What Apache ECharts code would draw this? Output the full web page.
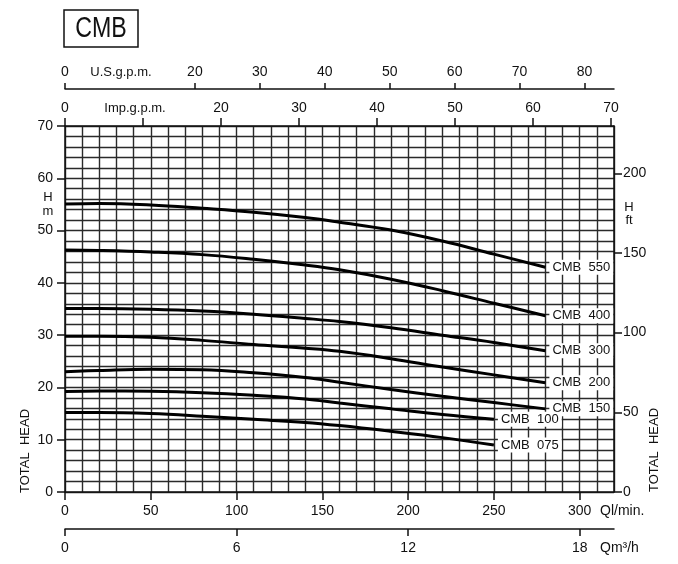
<!DOCTYPE html>
<html>
<head>
<meta charset="utf-8">
<script src="https://cdn.jsdelivr.net/npm/echarts@6/dist/echarts.min.js"></script>
<style>html,body{margin:0;padding:0;background:#fff}#c{width:678px;height:564px}</style>
</head>
<body>
<div id="c"></div>
<script>
// ---- data (flow in l/min, head in m) ----
const flowLong = [0, 20, 50, 80, 110, 140, 160, 190, 220, 250, 280];
const flowShort = [0, 20, 50, 80, 110, 140, 160, 190, 220, 250];
const headCMB550 = [55.1, 55.2, 54.9, 54.25, 53.5, 52.5, 51.6, 50.1, 48.0, 45.5, 43.0];
const headCMB400 = [46.3, 46.2, 45.9, 45.4, 44.5, 43.4, 42.5, 40.7, 38.5, 36.1, 33.7];
const headCMB300 = [35.1, 35.1, 34.95, 34.6, 34.0, 33.2, 32.6, 31.4, 30.0, 28.6, 27.0];
const headCMB200 = [29.8, 29.8, 29.6, 29.0, 28.2, 27.5, 26.9, 25.5, 23.9, 22.4, 20.9];
const headCMB150 = [23.0, 23.25, 23.5, 23.4, 22.8, 21.9, 21.0, 19.6, 18.3, 17.1, 15.9];
const headCMB100 = [19.2, 19.3, 19.25, 19.0, 18.5, 17.8, 17.0, 15.9, 14.8, 13.9];
const headCMB075 = [15.2, 15.2, 15.0, 14.5, 13.9, 13.3, 12.7, 11.6, 10.4, 9.0];
const seriesNames = ['CMB  550', 'CMB  400', 'CMB  300', 'CMB  200', 'CMB  150', 'CMB  100', 'CMB  075'];

const qlTicks = [0, 50, 100, 150, 200, 250, 300];
const m3hTicks = [0, 6, 12, 18];
const impTicks = [0, 10, 20, 30, 40, 50, 60, 70];
const usTicks = [0, 20, 30, 40, 50, 60, 70, 80];
const usLabels = [0, 10, 20, 30, 40, 50, 60, 70, 80];
const headMTicks = [0, 10, 20, 30, 40, 50, 60, 70];
const headFtTicks = [0, 50, 100, 150, 200];

const Q_MAX = 320;
const H_MAX = 70;
const Q_GRID_STEP = 10;
const H_GRID_STEP = 2;

const curves = [
  [flowLong, headCMB550], [flowLong, headCMB400], [flowLong, headCMB300],
  [flowLong, headCMB200], [flowLong, headCMB150], [flowShort, headCMB100], [flowShort, headCMB075]
];

const FONT = '"Liberation Sans Narrow", "Liberation Sans", Arial, sans-serif';
const ink = '#111';
const gridInk = '#2a2a2a';

const chart = echarts.init(document.getElementById('c'), null, {renderer: 'canvas'});

const baseLabel = {color: ink, fontFamily: FONT, fontSize: 14};
const axLine = {show: true, onZero: false, lineStyle: {color: ink, width: 1.5}};
const tickStyle = {color: ink, width: 1.5};

const option = {
  animation: false,
  backgroundColor: '#fff',
  grid: {left: 65, right: 64, top: 126, bottom: 72, containLabel: false, outerBoundsMode: 'none'},
  xAxis: [
    { // Ql/min (main)
      type: 'value', position: 'bottom', min: 0, max: Q_MAX, interval: 50,
      axisLine: axLine,
      splitLine: {show: false},
      axisTick: {show: true, length: 8, customValues: qlTicks, lineStyle: tickStyle},
      axisLabel: Object.assign({customValues: qlTicks, margin: 12}, baseLabel)
    },
    { // m3/h
      type: 'value', position: 'bottom', offset: 37, min: 0, max: Q_MAX * 60 / 1000, interval: 6,
      axisLine: axLine,
      splitLine: {show: false},
      axisTick: {show: true, length: 7, customValues: m3hTicks, lineStyle: tickStyle},
      axisLabel: Object.assign({customValues: m3hTicks, margin: 12}, baseLabel)
    },
    { // Imp gpm
      type: 'value', position: 'top', offset: 0, min: 0, max: Q_MAX / 4.54609, interval: 10,
      axisLine: axLine,
      splitLine: {show: false},
      axisTick: {show: true, length: 8, customValues: impTicks, lineStyle: tickStyle},
      axisLabel: Object.assign({
        customValues: impTicks, margin: 11,
        formatter: v => v === 10 ? '{u|Imp.g.p.m.}' : String(v),
        rich: {u: {fontFamily: FONT, fontSize: 13, color: ink, padding: [0, 16, 0, 0]}}
      }, baseLabel)
    },
    { // US gpm
      type: 'value', position: 'top', offset: 37, min: 0, max: Q_MAX / 3.78541, interval: 10,
      axisLine: axLine,
      splitLine: {show: false},
      axisTick: {show: true, length: 6, customValues: usTicks, lineStyle: tickStyle},
      axisLabel: Object.assign({
        customValues: usLabels, margin: 10,
        formatter: v => v === 10 ? '{u|U.S.g.p.m.}' : String(v),
        rich: {u: {fontFamily: FONT, fontSize: 13, color: ink, padding: [0, 18, 0, 0]}}
      }, baseLabel)
    },
    { // vertical grid lines every 10 l/min
      type: 'value', position: 'bottom', min: 0, max: Q_MAX, interval: Q_GRID_STEP,
      axisLine: {show: false}, axisTick: {show: false}, axisLabel: {show: false},
      splitLine: {show: true, lineStyle: {color: gridInk, width: 1.4}}
    }
  ],
  yAxis: [
    { // metres
      type: 'value', position: 'left', min: 0, max: H_MAX, interval: 10,
      axisLine: axLine,
      splitLine: {show: false},
      axisTick: {show: true, length: 8, customValues: headMTicks, lineStyle: tickStyle},
      axisLabel: Object.assign({customValues: headMTicks, margin: 12}, baseLabel)
    },
    { // feet
      type: 'value', position: 'right', min: 0, max: H_MAX / 0.3048, interval: 50,
      axisLine: axLine,
      splitLine: {show: false},
      axisTick: {show: true, length: 8, customValues: headFtTicks, lineStyle: tickStyle},
      axisLabel: Object.assign({customValues: headFtTicks, margin: 9}, baseLabel)
    },
    { // horizontal grid lines every 2 m
      type: 'value', position: 'left', min: 0, max: H_MAX, interval: H_GRID_STEP,
      axisLine: {show: false}, axisTick: {show: false}, axisLabel: {show: false},
      splitLine: {show: true, lineStyle: {color: gridInk, width: 1.4}}
    }
  ],
  series: curves.map((c, i) => ({
    name: seriesNames[i],
    type: 'line',
    xAxisIndex: 0, yAxisIndex: 0,
    smooth: 0.4,
    symbol: 'none',
    data: c[0].map((q, k) => [q, c[1][k]]),
    lineStyle: {color: '#000', width: 3},
    endLabel: {
      show: true,
      formatter: seriesNames[i],
      color: ink, fontFamily: FONT, fontSize: 13,
      backgroundColor: '#fff', padding: [1, 3, 1, 3], distance: 4
    },
    z: 5
  })),
  graphic: [
    {type: 'rect', shape: {x: 64, y: 10, width: 74, height: 37},
     style: {fill: '#fff', stroke: ink, lineWidth: 1.5}},
    {type: 'text', x: 101, y: 29, scaleX: 0.8,
     style: {text: 'CMB', fontFamily: FONT, fontSize: 29, fontWeight: 300, fill: ink, align: 'center', verticalAlign: 'middle'}},
    {type: 'text', x: 48, y: 197, style: {text: 'H', fontFamily: FONT, fontSize: 13, fill: ink, align: 'center', verticalAlign: 'middle'}},
    {type: 'text', x: 48, y: 211, style: {text: 'm', fontFamily: FONT, fontSize: 13, fill: ink, align: 'center', verticalAlign: 'middle'}},
    {type: 'text', x: 629, y: 207, style: {text: 'H', fontFamily: FONT, fontSize: 13, fill: ink, align: 'center', verticalAlign: 'middle'}},
    {type: 'text', x: 629, y: 220, style: {text: 'ft', fontFamily: FONT, fontSize: 13, fill: ink, align: 'center', verticalAlign: 'middle'}},
    {type: 'text', x: 25, y: 451, rotation: Math.PI / 2,
     style: {text: 'TOTAL  HEAD', fontFamily: FONT, fontSize: 13, fill: ink, align: 'center', verticalAlign: 'middle'}},
    {type: 'text', x: 654, y: 450, rotation: Math.PI / 2,
     style: {text: 'TOTAL  HEAD', fontFamily: FONT, fontSize: 13, fill: ink, align: 'center', verticalAlign: 'middle'}},
    {type: 'text', x: 600, y: 511, style: {text: 'Ql/min.', fontFamily: FONT, fontSize: 14, fill: ink, align: 'left', verticalAlign: 'middle'}},
    {type: 'text', x: 600, y: 548, style: {text: 'Qm³/h', fontFamily: FONT, fontSize: 14, fill: ink, align: 'left', verticalAlign: 'middle'}}
  ]
};
chart.setOption(option);
</script>
</body>
</html>
